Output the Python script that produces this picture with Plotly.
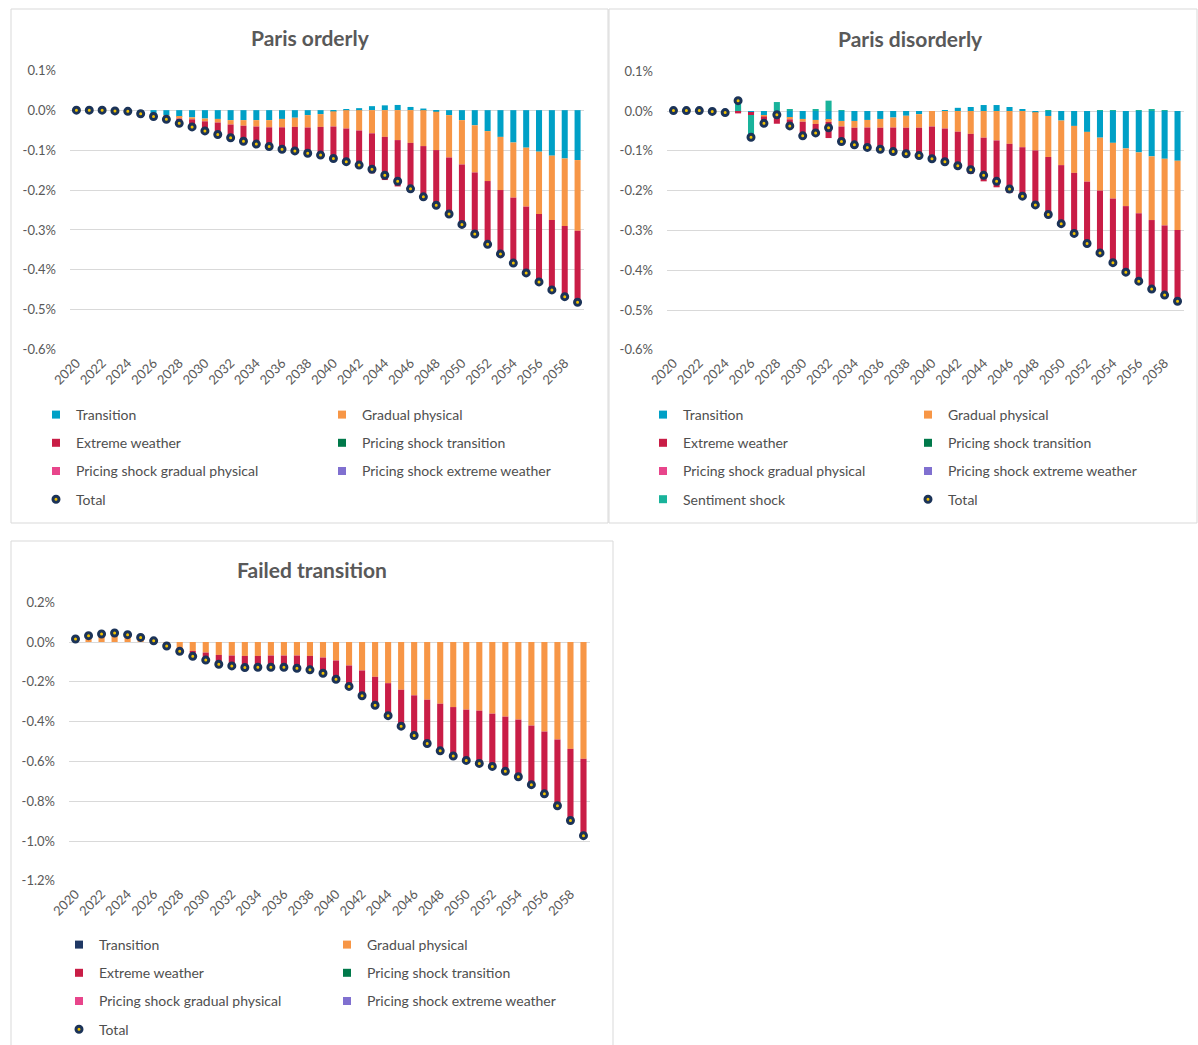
import plotly.graph_objects as go

W, H = 1198, 1045

years = list(range(2020, 2060))
year_ticks = list(range(2020, 2060, 2))
year_labels = [str(y) for y in year_ticks]

# ---- Paris orderly (% of GDP) ----
po_transition = [0, 0, 0, -0.002, -0.003, -0.007, -0.010, -0.013, -0.017, -0.018,
                 -0.021, -0.022, -0.025, -0.025, -0.025, -0.025, -0.022, -0.019, -0.0125, -0.010,
                 -0.003, 0.001, 0.005, 0.010, 0.012, 0.013, 0.008, 0.004, -0.004, -0.0125,
                 -0.025, -0.038, -0.0525, -0.067, -0.081, -0.094, -0.104, -0.114, -0.121, -0.125]
po_gradual = [0, 0, 0, 0, 0, 0, -0.002, -0.003, -0.004, -0.005,
              -0.007, -0.009, -0.011, -0.014, -0.016, -0.018, -0.021, -0.023, -0.031, -0.032,
              -0.038, -0.046, -0.051, -0.058, -0.067, -0.075, -0.082, -0.090, -0.096, -0.106,
              -0.111, -0.118, -0.125, -0.133, -0.138, -0.1475, -0.156, -0.161, -0.169, -0.177]
po_extreme = [0, 0, 0, 0, 0, -0.002, -0.004, -0.007, -0.012, -0.019,
              -0.024, -0.030, -0.033, -0.039, -0.044, -0.048, -0.055, -0.060, -0.0645, -0.0705,
              -0.080, -0.084, -0.0915, -0.100, -0.108, -0.116, -0.123, -0.131, -0.138, -0.1415,
              -0.150, -0.154, -0.1585, -0.160, -0.164, -0.166, -0.170, -0.175, -0.177, -0.179]
po_total = [0, 0, 0, -0.002, -0.003, -0.009, -0.016, -0.023, -0.033, -0.042,
            -0.052, -0.061, -0.069, -0.078, -0.085, -0.091, -0.098, -0.102, -0.108, -0.1125,
            -0.121, -0.129, -0.1375, -0.148, -0.163, -0.178, -0.197, -0.217, -0.238, -0.260,
            -0.286, -0.310, -0.336, -0.360, -0.383, -0.4075, -0.430, -0.450, -0.467, -0.481]

# ---- Paris disorderly ----
pd_transition = [0.001, 0.001, 0.001, -0.001, -0.002, -0.001, -0.004, -0.012, -0.004, -0.016,
                 -0.020, -0.0225, -0.0225, -0.025, -0.025, -0.0225, -0.020, -0.0165, -0.012, -0.008,
                 0, 0.001, 0.008, 0.010, 0.015, 0.015, 0.010, 0.003, -0.003, -0.0125,
                 -0.024, -0.0375, -0.0525, -0.067, -0.080, -0.094, -0.104, -0.114, -0.120, -0.125]
pd_gradual = [0, 0, 0, 0, 0, 0, -0.001, -0.002, -0.003, -0.005,
              -0.007, -0.010, -0.005, -0.014, -0.017, -0.019, -0.022, -0.025, -0.030, -0.034,
              -0.039, -0.044, -0.052, -0.0575, -0.067, -0.074, -0.0825, -0.091, -0.096, -0.103,
              -0.112, -0.118, -0.125, -0.133, -0.140, -0.145, -0.153, -0.160, -0.1675, -0.174]
pd_extreme = [0, 0, 0, 0, -0.002, -0.005, -0.005, -0.012, -0.025, -0.0195,
              -0.0355, -0.0265, -0.0405, -0.0395, -0.043, -0.050, -0.054, -0.0605, -0.0655, -0.070,
              -0.081, -0.0845, -0.0935, -0.100, -0.1097, -0.1177, -0.1235, -0.126, -0.137, -0.1465,
              -0.147, -0.152, -0.1555, -0.1575, -0.163, -0.166, -0.1715, -0.1765, -0.177, -0.179]
pd_sentiment = [0, 0, 0, 0, 0, 0.032, -0.056, -0.005, 0.0225, 0.003,
                0, 0.004, 0.026, 0.002, 0, 0, 0, 0, 0, 0,
                0, 0, 0, 0, 0, 0, 0, 0, 0, 0.002,
                0, 0, 0, 0.001, 0.002, 0, 0.001, 0.003, 0.002, 0]
pd_total = [0.001, 0.001, 0.001, -0.001, -0.004, 0.026, -0.066, -0.031, -0.0095, -0.0375,
            -0.0625, -0.055, -0.042, -0.0765, -0.085, -0.0915, -0.096, -0.102, -0.1075, -0.112,
            -0.120, -0.1275, -0.1375, -0.1475, -0.1617, -0.1767, -0.196, -0.214, -0.236, -0.260,
            -0.283, -0.3075, -0.333, -0.3565, -0.381, -0.405, -0.4275, -0.4475, -0.4625, -0.478]

# ---- Failed transition ----
ft_gradual = [0.015, 0.032, 0.040, 0.045, 0.037, 0.023, 0.006, -0.015, -0.030, -0.045,
              -0.053, -0.065, -0.068, -0.070, -0.070, -0.068, -0.068, -0.068, -0.070, -0.078,
              -0.093, -0.118, -0.143, -0.175, -0.207, -0.240, -0.268, -0.290, -0.310, -0.327,
              -0.340, -0.345, -0.360, -0.375, -0.390, -0.420, -0.450, -0.490, -0.537, -0.587]
ft_extreme = [0, 0, 0, 0, 0, 0, 0, -0.005, -0.017, -0.027,
              -0.038, -0.047, -0.052, -0.058, -0.057, -0.059, -0.059, -0.064, -0.070, -0.079,
              -0.094, -0.105, -0.127, -0.143, -0.163, -0.183, -0.202, -0.220, -0.237, -0.246,
              -0.255, -0.265, -0.265, -0.275, -0.287, -0.297, -0.313, -0.333, -0.360, -0.386]
ft_total = [0.015, 0.032, 0.040, 0.045, 0.037, 0.023, 0.006, -0.020, -0.047, -0.072,
            -0.091, -0.112, -0.120, -0.128, -0.127, -0.127, -0.127, -0.132, -0.140, -0.157,
            -0.187, -0.223, -0.270, -0.318, -0.370, -0.423, -0.470, -0.510, -0.547, -0.573,
            -0.595, -0.610, -0.625, -0.650, -0.677, -0.717, -0.763, -0.823, -0.897, -0.973]

# y tick labels
po_yvals = [0.1, 0.0, -0.1, -0.2, -0.3, -0.4, -0.5, -0.6]
po_ytext = ["0.1%", "0.0%", "-0.1%", "-0.2%", "-0.3%", "-0.4%", "-0.5%", "-0.6%"]
ft_yvals = [0.2, 0.0, -0.2, -0.4, -0.6, -0.8, -1.0, -1.2]
ft_ytext = ["0.2%", "0.0%", "-0.2%", "-0.4%", "-0.6%", "-0.8%", "-1.0%", "-1.2%"]

C_TRANS = "#00A0C6"
C_TRANS_FT = "#1F3864"
C_GRAD = "#F79646"
C_EXT = "#C91D46"
C_PST = "#00794A"
C_PSGP = "#E8458B"
C_PSEW = "#8070D0"
C_SENT = "#19B39B"
DOT_FILL = "#F2C200"
DOT_LINE = "#1B3358"
GREY = "#595959"
FONT = "Lato"


def px_x(x):
    return x / W


def px_y(y):
    return 1 - y / H


fig = go.Figure()

dot = dict(size=6, color=DOT_FILL, line=dict(color=DOT_LINE, width=3))


def add_panel(n, bars, total, legend_names, legend_items):
    xa = "x" if n == 1 else "x%d" % n
    ya = "y" if n == 1 else "y%d" % n
    for name, vals, col in bars:
        fig.add_trace(go.Bar(x=years, y=vals, name=name, marker_color=col,
                             marker_line_width=0, xaxis=xa, yaxis=ya,
                             showlegend=False))
    fig.add_trace(go.Scatter(x=years, y=total, name="Total", mode="markers",
                             marker=dot, xaxis=xa, yaxis=ya, showlegend=False))
    # legend entries, laid out in two columns like the original
    for i, (name, col) in enumerate(legend_items):
        lg = legend_names[i % 2]
        if name == "Total":
            marker = dot
        else:
            marker = dict(size=8, symbol="square", color=col, line=dict(width=0))
        fig.add_trace(go.Scatter(x=[None], y=[None], mode="markers", name=name,
                                 marker=marker, legend=lg,
                                 legendgroup="p%d_%d" % (n, i), xaxis=xa, yaxis=ya))


add_panel(1,
          [("Transition", po_transition, C_TRANS),
           ("Gradual physical", po_gradual, C_GRAD),
           ("Extreme weather", po_extreme, C_EXT)],
          po_total, ["legend", "legend2"],
          [("Transition", C_TRANS), ("Gradual physical", C_GRAD),
           ("Extreme weather", C_EXT), ("Pricing shock transition", C_PST),
           ("Pricing shock gradual physical", C_PSGP), ("Pricing shock extreme weather", C_PSEW),
           ("Total", None)])

add_panel(2,
          [("Transition", pd_transition, C_TRANS),
           ("Gradual physical", pd_gradual, C_GRAD),
           ("Extreme weather", pd_extreme, C_EXT),
           ("Sentiment shock", pd_sentiment, C_SENT)],
          pd_total, ["legend3", "legend4"],
          [("Transition", C_TRANS), ("Gradual physical", C_GRAD),
           ("Extreme weather", C_EXT), ("Pricing shock transition", C_PST),
           ("Pricing shock gradual physical", C_PSGP), ("Pricing shock extreme weather", C_PSEW),
           ("Sentiment shock", C_SENT), ("Total", None)])

add_panel(3,
          [("Gradual physical", ft_gradual, C_GRAD),
           ("Extreme weather", ft_extreme, C_EXT)],
          ft_total, ["legend5", "legend6"],
          [("Transition", C_TRANS_FT), ("Gradual physical", C_GRAD),
           ("Extreme weather", C_EXT), ("Pricing shock transition", C_PST),
           ("Pricing shock gradual physical", C_PSGP), ("Pricing shock extreme weather", C_PSEW),
           ("Total", None)])

tickfont = dict(family=FONT, size=13, color=GREY)


def xaxis(x0, x1, anchor):
    return dict(domain=[px_x(x0), px_x(x1)], anchor=anchor, range=[2019.5, 2059.5],
                tickmode="array", tickvals=year_ticks, ticktext=year_labels,
                tickangle=-45, showgrid=False, zeroline=False, showline=False,
                ticks="", tickfont=tickfont, ticklabelstandoff=2)


def yaxis(y0, y1, anchor, rng, vals, text):
    return dict(domain=[px_y(y1), px_y(y0)], anchor=anchor, range=rng,
                tickmode="array", tickvals=vals, ticktext=text,
                showgrid=True, gridcolor="#D9D9D9", gridwidth=1,
                zeroline=False, showline=False, ticks="",
                tickfont=tickfont, ticklabelstandoff=13)


legend_font = dict(family=FONT, size=14, color="#4F4F4F")


def legend(x, y):
    return dict(x=px_x(x), y=px_y(y), xanchor="left", yanchor="top",
                orientation="v", font=legend_font, tracegroupgap=7,
                bgcolor="rgba(0,0,0,0)", itemclick=False, itemdoubleclick=False)


# panel frames
frames = [(11, 9, 608, 523), (609, 9, 1197, 523), (11, 541, 613, 1060)]
shapes = [dict(type="rect", xref="paper", yref="paper",
               x0=px_x(a), x1=px_x(c), y0=px_y(d), y1=px_y(b),
               line=dict(color="#D9D9D9", width=1), fillcolor="rgba(0,0,0,0)")
          for a, b, c, d in frames]

titles = [("Paris orderly", 310, 37), ("Paris disorderly", 910, 38), ("Failed transition", 312, 569)]
annotations = [dict(text=t, x=px_x(x), y=px_y(y), xref="paper", yref="paper",
                    showarrow=False, xanchor="center", yanchor="middle",
                    font=dict(family=FONT, size=21, color=GREY, weight="bold"))
               for t, x, y in titles]

fig.update_layout(
    autosize=True,
    margin=dict(l=0, r=0, t=0, b=0, autoexpand=False),
    paper_bgcolor="white", plot_bgcolor="white",
    barmode="relative", bargap=0.53,
    xaxis=xaxis(70, 584, "y"),
    yaxis=yaxis(70, 350, "x", [-0.6005, 0.1005], po_yvals, po_ytext),
    xaxis2=xaxis(667, 1184, "y2"),
    yaxis2=yaxis(71, 350, "x2", [-0.6005, 0.1005], po_yvals, po_ytext),
    xaxis3=xaxis(69, 590, "y3"),
    yaxis3=yaxis(602, 881, "x3", [-1.201, 0.201], ft_yvals, ft_ytext),
    legend=legend(36, 399),
    legend2=legend(322, 399),
    legend3=legend(643, 399),
    legend4=legend(908, 399),
    legend5=legend(59, 929),
    legend6=legend(327, 929),
    shapes=shapes,
    annotations=annotations,
    showlegend=True,
)

# fill the browser window exactly, no page margin, no toolbar
fit_page = ("document.documentElement.style.overflow='hidden';"
            "document.body.style.margin='0';"
            "Plotly.Plots.resize(document.getElementById('{plot_id}'));")

fig.write_html("out.html", default_width="100vw", default_height="100vh",
               config={"displayModeBar": False}, post_script=fit_page)
